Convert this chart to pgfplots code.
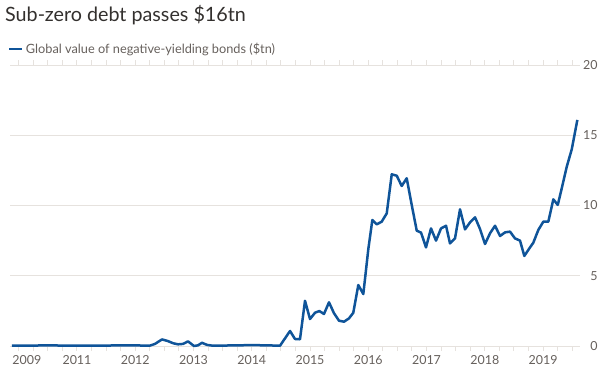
\documentclass[border=0pt]{standalone}
\usepackage{pgfplots}
\pgfplotsset{compat=1.18}
\usepackage{fontspec}
\setmainfont{Lato}
\definecolor{ftblue}{HTML}{0F5499}
\definecolor{ftgrid}{HTML}{E6E2DE}
\definecolor{fttext}{HTML}{66605C}
\definecolor{fttitle}{HTML}{33302E}
\begin{document}
\begin{tikzpicture}[x=1bp,y=1bp]
\path[use as bounding box] (0,0) rectangle (605,-377);
\node[anchor=west, font=\fontsize{19.8}{23}\selectfont, text=fttitle, inner sep=0] at (5,-15) {Sub-zero debt passes \$16tn};
\begin{axis}[
  at={(10bp,-346bp)}, anchor=south west,
  scale only axis, width=570bp, height=281bp,
  xmin=2009.85, xmax=2019.635, ymin=0, ymax=20,
  axis line style={draw=none},
  ymajorgrids, grid style={ftgrid, line width=1bp},
  ytick={0,5,10,15,20},
  yticklabel pos=right,
  y tick label style={anchor=east, xshift=21bp, text=fttext, font=\fontsize{12.5}{14}\selectfont},
  /pgf/number format/assume math mode=true,
  xtick={2010.14,2011,2012,2013,2014,2015,2016,2017,2018,2019},
  xticklabels={2009,2011,2012,2013,2014,2015,2016,2017,2018,2019},
  x tick label style={text=fttext, font=\fontsize{12.5}{14}\selectfont, yshift=-6bp},
  major tick length=0pt,
  extra x ticks={2010,2010.25,...,2019.5},
  extra x tick labels={},
  extra x tick style={major tick length=5bp, tick align=outside, tick style={ftgrid, line width=1bp}},
  legend style={at={(axis description cs:-0.004,1.057)}, anchor=west, draw=none, fill=none, inner sep=0pt,
    font=\fontsize{12.8}{14}\selectfont, text=fttext, nodes={inner sep=2.5bp}},
  legend image code/.code={\draw[#1, line width=2.5bp] (0bp,0bp) -- (13bp,0bp);},
  legend cell align=left,
  clip=false,
]
\addplot[ftblue, line width=2.5bp, line join=round] coordinates {
(2009.884,0.02) (2010.25,0.03) (2010.5,0.05) (2010.75,0.03) (2011.0,0.03) (2011.5,0.03)
(2011.75,0.05) (2012.0,0.04) (2012.253,0.03) (2012.339,0.15) (2012.459,0.47) (2012.562,0.35)
(2012.648,0.20) (2012.734,0.12) (2012.820,0.15) (2012.906,0.33) (2013.009,0.00) (2013.077,0.05)
(2013.146,0.23) (2013.232,0.08) (2013.318,0.03) (2013.5,0.03) (2013.75,0.05) (2014.0,0.06)
(2014.25,0.05) (2014.485,0.02) (2014.657,1.07) (2014.742,0.50) (2014.828,0.48) (2014.914,3.22)
(2015.000,1.92) (2015.086,2.37) (2015.160,2.49) (2015.240,2.28) (2015.326,3.11) (2015.412,2.33)
(2015.498,1.80) (2015.584,1.73) (2015.670,1.97) (2015.743,2.37) (2015.829,4.34) (2015.915,3.70)
(2016.001,6.90) (2016.070,8.97) (2016.145,8.66) (2016.231,8.85) (2016.317,9.44) (2016.403,12.22)
(2016.489,12.12) (2016.574,11.39) (2016.660,11.94) (2016.746,10.04) (2016.832,8.21) (2016.906,8.07)
(2016.991,7.02) (2017.077,8.37) (2017.163,7.50) (2017.249,8.37) (2017.335,8.56) (2017.403,7.30)
(2017.489,7.66) (2017.575,9.73) (2017.661,8.30) (2017.747,8.80) (2017.833,9.16) (2017.918,8.33)
(2018.004,7.26) (2018.090,8.02) (2018.176,8.56) (2018.262,7.83) (2018.348,8.09) (2018.433,8.14)
(2018.519,7.66) (2018.605,7.50) (2018.679,6.41) (2018.765,6.95) (2018.833,7.35) (2018.919,8.26)
(2019.005,8.85) (2019.091,8.85) (2019.177,10.44) (2019.253,10.04) (2019.321,11.22) (2019.407,12.76)
(2019.493,14.00) (2019.589,16.09)
};
\addlegendentry{Global value of negative-yielding bonds (\$tn)}
\end{axis}
\end{tikzpicture}
\end{document}
